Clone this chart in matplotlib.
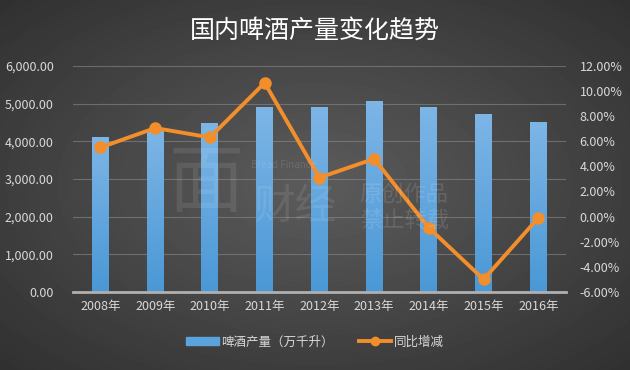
import numpy as np
import matplotlib
matplotlib.use('Agg')
import matplotlib.pyplot as plt
from matplotlib.ticker import FuncFormatter, MultipleLocator
from matplotlib.colors import LinearSegmentedColormap

plt.rcParams['font.family'] = ['Noto Sans CJK SC', 'DejaVu Sans']

years = ['2008年', '2009年', '2010年', '2011年', '2012年', '2013年', '2014年', '2015年', '2016年']
output = [4100, 4300, 4490, 4900, 4900, 5060, 4900, 4720, 4500]   # 万千升
yoy = [5.5, 7.05, 6.3, 10.65, 3.1, 4.6, -0.9, -5.0, -0.1]          # %

fig = plt.figure(figsize=(6.3, 3.7), dpi=100)

# dark radial background
bg = fig.add_axes([0, 0, 1, 1], zorder=-10)
yy, xx = np.mgrid[-1:1:370j, -1:1:630j]
r = np.sqrt(xx**2 + yy**2) / np.sqrt(2)
bg.imshow(0.36 - 0.17 * r, cmap='gray', vmin=0, vmax=1, aspect='auto', extent=[0, 1, 0, 1])
bg.set_axis_off()

ax = fig.add_axes([0.116, 0.211, 0.782, 0.611])
ax.patch.set_alpha(0)
x = np.arange(len(years))
bars = ax.bar(x, output, width=0.31, color='#5ba3dc', zorder=3)

# vertical gradient inside each bar
bar_cmap = LinearSegmentedColormap.from_list('bar', ['#4a98d6', '#7db5e6'])
grad = np.linspace(0, 1, 100)[:, None]
for b in bars:
    x0, w, h = b.get_x(), b.get_width(), b.get_height()
    im = ax.imshow(grad, cmap=bar_cmap, origin='lower', aspect='auto',
                   extent=[x0, x0 + w, 0, h], zorder=3.5)
    im.set_clip_path(b)
ax.set_xlim(-0.5, len(years) - 0.5)
ax.set_ylim(0, 6000)

ax.yaxis.set_major_locator(MultipleLocator(1000))
ax.yaxis.set_major_formatter(FuncFormatter(lambda v, p: f'{v:,.2f}'))
ax.grid(axis='y', color='#8a8a8a', lw=0.8, alpha=0.6, zorder=0)
for s in ['top', 'right', 'left']:
    ax.spines[s].set_visible(False)
ax.spines['bottom'].set_color('#b0b0b0')
ax.spines['bottom'].set_linewidth(2)
ax.spines['bottom'].set_zorder(4)
ax.set_xticks(x, years)
ax.tick_params(colors='#d9d9d9', labelsize=9, length=0, pad=6)
ax.tick_params(axis='y', pad=14)

ax2 = ax.twinx()
ax2.plot(x, yoy, color='#f28e2b', lw=2.8, marker='o', ms=8, zorder=5)
ax2.set_ylim(-6, 12)
ax2.yaxis.set_major_locator(MultipleLocator(2))
ax2.yaxis.set_major_formatter(FuncFormatter(lambda v, p: f'{v:.2f}%'))
for s in ax2.spines.values():
    s.set_visible(False)
ax2.tick_params(colors='#d9d9d9', labelsize=9, length=0, pad=10)

# faint watermark
fig.text(0.328, 0.50, '面', color='white', alpha=0.09, fontsize=54, ha='center', va='center')
fig.text(0.398, 0.554, 'Bread Finance', color='white', alpha=0.12, fontsize=7, va='center')
fig.text(0.468, 0.44, '财经', color='white', alpha=0.09, fontsize=30, ha='center', va='center')
fig.text(0.571, 0.44, '原创作品\n禁止转载', color='white', alpha=0.12, fontsize=16,
         ha='left', va='center', linespacing=1.15)

fig.text(0.5, 0.917, '国内啤酒产量变化趋势', color='white', fontsize=18, ha='center', va='center')

h1 = plt.Rectangle((0, 0), 1, 1, color='#5ba3dc')
h2, = ax2.plot([], [], color='#f28e2b', lw=2.8, marker='o', ms=6)
leg = fig.legend([h1, h2], ['啤酒产量（万千升）', '同比增减'], loc='center', bbox_to_anchor=(0.5, 0.076),
                 ncol=2, frameon=False, fontsize=9, labelcolor='#d9d9d9', handlelength=2.6,
                 handleheight=0.5, columnspacing=2.0, handletextpad=0.2)

fig.savefig('out.png', dpi=100)
